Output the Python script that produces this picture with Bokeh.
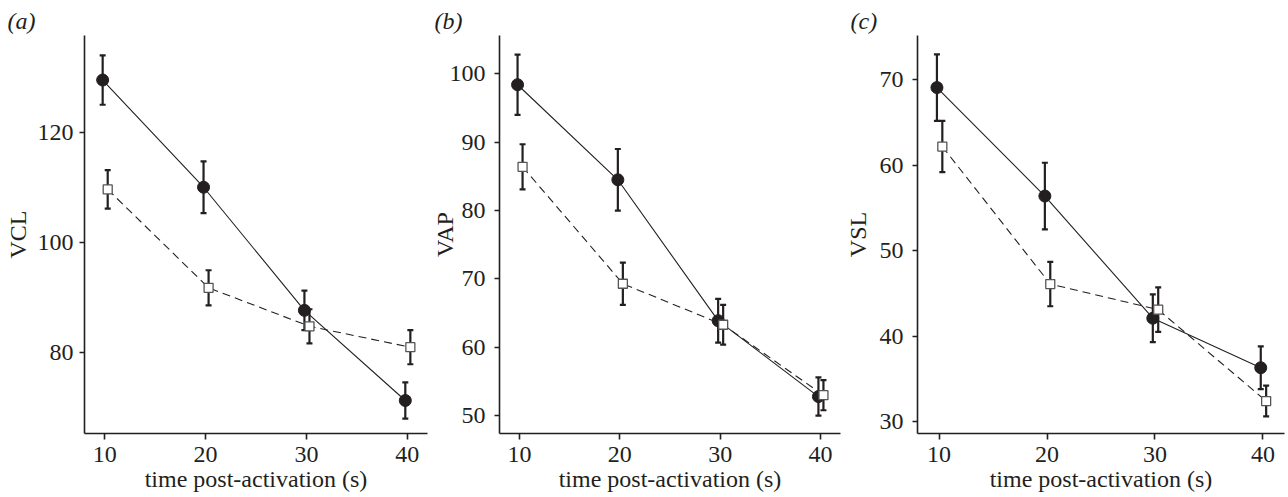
from bokeh.plotting import figure
from bokeh.models import ColumnDataSource, Whisker, TeeHead, Range1d, FixedTicker
from bokeh.layouts import row
from bokeh.embed import file_html
from bokeh.resources import INLINE

# ---------------- data ----------------
time_s = [10, 20, 30, 40]
x_ticks = [10, 20, 30, 40]

vcl_filled = [129.5, 110.0, 87.6, 71.2]
vcl_filled_se = [4.5, 4.7, 3.6, 3.3]
vcl_open = [109.6, 91.7, 84.7, 80.9]
vcl_open_se = [3.5, 3.2, 3.1, 3.1]
vcl_ticks = [80, 100, 120]

vap_filled = [98.4, 84.5, 63.9, 52.8]
vap_filled_se = [4.4, 4.5, 3.2, 2.8]
vap_open = [86.4, 69.3, 63.3, 53.0]
vap_open_se = [3.3, 3.1, 2.9, 2.2]
vap_ticks = [50, 60, 70, 80, 90, 100]

vsl_filled = [69.1, 56.4, 42.1, 36.3]
vsl_filled_se = [3.9, 3.9, 2.8, 2.5]
vsl_open = [62.2, 46.1, 43.1, 32.4]
vsl_open_se = [3.0, 2.6, 2.6, 1.8]
vsl_ticks = [30, 40, 50, 60, 70]

panel_letters = ["(a)", "(b)", "(c)"]
y_titles = ["VCL", "VAP", "VSL"]
x_title = "time post-activation (s)"

FONT = "Liberation Serif"
FS = 24
INK = "#231f20"


def make_panel(letter, ytitle, filled, filled_se, opn, opn_se, yticks, yrange,
               width, height, bl, br, bt, bb, ylab_std, ytick_std, letter_off):
    p = figure(width=width, height=height, output_backend="svg", toolbar_location=None,
               x_range=Range1d(8, 42), y_range=Range1d(*yrange),
               min_border_left=bl, min_border_right=br, min_border_top=bt, min_border_bottom=bb,
               title=letter)
    p.outline_line_color = None
    p.xgrid.visible = False
    p.ygrid.visible = False
    p.background_fill_color = "white"
    p.border_fill_color = "white"

    t = p.title
    t.text_font = FONT
    t.text_font_size = f"{FS}px"
    t.text_font_style = "italic"
    t.text_color = INK
    t.align = "left"
    t.offset = letter_off
    t.standoff = 4

    for ax in (p.xaxis[0], p.yaxis[0]):
        ax.axis_line_width = 1.6
        ax.axis_line_color = INK
        ax.major_tick_line_color = INK
        ax.major_tick_line_width = 1.6
        ax.major_tick_in = 0
        ax.minor_tick_line_color = None
        ax.major_label_text_font = FONT
        ax.major_label_text_font_size = f"{FS}px"
        ax.major_label_text_color = INK
        ax.axis_label_text_font = FONT
        ax.axis_label_text_font_size = f"{FS}px"
        ax.axis_label_text_font_style = "normal"
        ax.axis_label_text_color = INK
    xa, ya = p.xaxis[0], p.yaxis[0]
    xa.ticker = FixedTicker(ticks=x_ticks)
    ya.ticker = FixedTicker(ticks=yticks)
    xa.major_tick_out = 6
    ya.major_tick_out = 5
    xa.major_label_standoff = 7
    ya.major_label_standoff = ytick_std
    xa.axis_label = x_title
    xa.axis_label_standoff = 1
    ya.axis_label = ytitle
    ya.axis_label_standoff = ylab_std

    xf = [v - 0.2 for v in time_s]
    xo = [v + 0.3 for v in time_s]
    src_f = ColumnDataSource(dict(x=xf, y=filled,
                                  lo=[v - e for v, e in zip(filled, filled_se)],
                                  hi=[v + e for v, e in zip(filled, filled_se)]))
    src_o = ColumnDataSource(dict(x=xo, y=opn,
                                  lo=[v - e for v, e in zip(opn, opn_se)],
                                  hi=[v + e for v, e in zip(opn, opn_se)]))

    p.line("x", "y", source=src_f, line_color=INK, line_width=1.1)
    p.line("x", "y", source=src_o, line_color=INK, line_width=1.1, line_dash="8 5")

    for src in (src_f, src_o):
        w = Whisker(source=src, base="x", lower="lo", upper="hi", dimension="height",
                    line_color=INK, line_width=2.2, level="underlay",
                    upper_head=TeeHead(size=6, line_color=INK, line_width=2.2),
                    lower_head=TeeHead(size=6, line_color=INK, line_width=2.2))
        p.add_layout(w)

    p.scatter("x", "y", source=src_f, marker="circle", size=12,
              fill_color=INK, line_color=INK)
    p.scatter("x", "y", source=src_o, marker="square", size=9,
              fill_color="white", line_color="#555555", line_width=1.3)
    return p


H = 495
pa = make_panel(panel_letters[0], y_titles[0], vcl_filled, vcl_filled_se, vcl_open, vcl_open_se,
                vcl_ticks, (65.2, 137.6), 428, H, 84, 1, 35, 62, 4, 6, -77)
pb = make_panel(panel_letters[1], y_titles[1], vap_filled, vap_filled_se, vap_open, vap_open_se,
                vap_ticks, (47.4, 105.6), 413, H, 69, 1, 27, 62, -11, 9, -65)
pc = make_panel(panel_letters[2], y_titles[2], vsl_filled, vsl_filled_se, vsl_open, vsl_open_se,
                vsl_ticks, (28.6, 75.2), 445, H, 71, 2, 31, 61, 6, 9, -67)

layout = row(pa, pb, pc)
open("out.html", "w").write(file_html(layout, INLINE))
